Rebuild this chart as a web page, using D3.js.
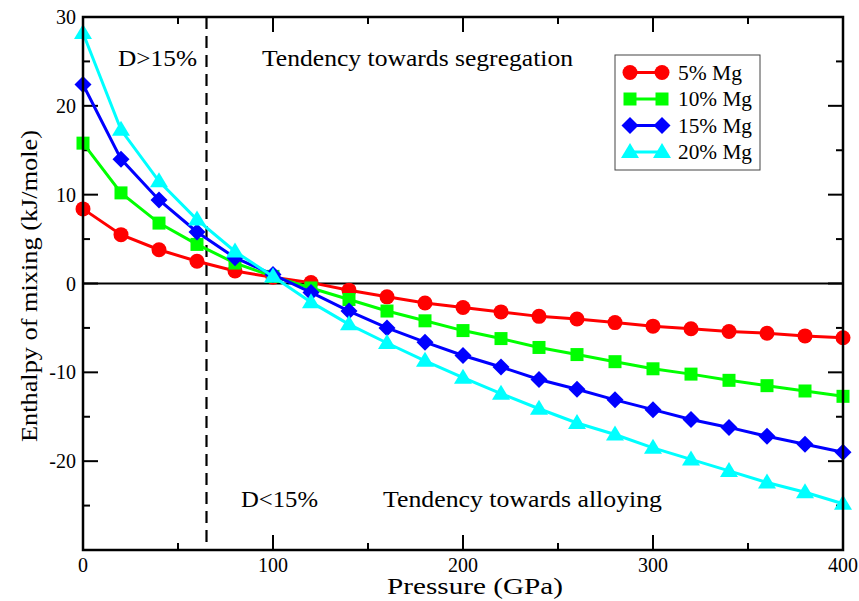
<!DOCTYPE html>
<html>
<head>
<meta charset="utf-8">
<script src="https://cdn.jsdelivr.net/npm/d3@7"></script>
<style>
  body { margin: 0; background: #fff; }
  text { font-family: "Liberation Serif", "Times New Roman", "DejaVu Serif", serif; fill: #000; }
</style>
</head>
<body>
<script>
/////////////////////////////////////////////////
// data
/////////////////////////////////////////////////
var pressure = [0, 20, 40, 60, 80, 100, 120, 140, 160, 180, 200,
                220, 240, 260, 280, 300, 320, 340, 360, 380, 400];

var mg5  = [8.4, 5.5, 3.8, 2.5, 1.4, 0.7, 0.1, -0.75, -1.5, -2.2, -2.7,
            -3.2, -3.7, -4.0, -4.4, -4.8, -5.1, -5.4, -5.6, -5.9, -6.1];
var mg10 = [15.8, 10.2, 6.8, 4.4, 2.3, 0.8, -0.5, -1.8, -3.1, -4.2, -5.3,
            -6.2, -7.2, -8.0, -8.8, -9.6, -10.2, -10.9, -11.5, -12.1, -12.7];
var mg15 = [22.4, 14.0, 9.4, 5.8, 2.9, 1.0, -1.0, -3.1, -5.0, -6.6, -8.1,
            -9.4, -10.8, -11.9, -13.1, -14.2, -15.3, -16.2, -17.2, -18.1, -19.0];
var mg20 = [28.2, 17.3, 11.5, 7.2, 3.6, 0.8, -2.1, -4.6, -6.7, -8.7, -10.6,
            -12.4, -14.1, -15.7, -17.0, -18.5, -19.8, -21.1, -22.4, -23.5, -24.8];

var seriesNames = ["5% Mg", "10% Mg", "15% Mg", "20% Mg"];
var xTicks = [0, 100, 200, 300, 400];
var yTicks = [-20, -10, 0, 10, 20, 30];

/////////////////////////////////////////////////
// locals
/////////////////////////////////////////////////
var width  = 859,
    height = 601;
// note: "top" is a reserved window global, so use plot* names
var plotL = 83, plotR = 843, plotT = 17, plotB = 550;

var colors  = ["#ff0000", "#00ff00", "#0000ff", "#00ffff"];
var shapes  = ["circle", "square", "diamond", "triangle"];

var x = d3.scaleLinear().domain([0, 400]).range([plotL, plotR]);
var y = d3.scaleLinear().domain([-30, 30]).range([plotB, plotT]);

var svg = d3.select("body").append("svg")
    .attr("width", width)
    .attr("height", height);

// marker path centred on 0,0
function markerPath(shape) {
  if (shape == "circle") {
    var r = 7.5;
    return "M" + (-r) + ",0A" + r + "," + r + " 0 1,0 " + r + ",0A" + r + "," + r + " 0 1,0 " + (-r) + ",0Z";
  }
  if (shape == "square") return "M-6.5,-6.5H6.5V6.5H-6.5Z";
  if (shape == "diamond") return "M0,-8.5L8.5,0L0,8.5L-8.5,0Z";
  return "M0,-9L9,6L-9,6Z";
}

/////////////////////////////////////////////////
// frame, ticks
/////////////////////////////////////////////////
var frame = svg.append("g");

// zero line
frame.append("line")
  .attr("x1", plotL).attr("x2", plotR)
  .attr("y1", y(0)).attr("y2", y(0))
  .attr("stroke", "#000").attr("stroke-width", 2);

// dashed boundary at 65 GPa
frame.append("line")
  .attr("x1", x(65)).attr("x2", x(65))
  .attr("y1", plotT).attr("y2", plotB)
  .attr("stroke", "#000").attr("stroke-width", 2.2)
  .attr("stroke-dasharray", "12,7");

function tickList(min, max, step) {
  var out = [];
  for (var v = min; v <= max + 1e-9; v += step) out.push(v);
  return out;
}

// x ticks bottom and top
tickList(0, 400, 50).forEach(function(v) {
  var len = (v % 100 == 0) ? 15 : 7;
  frame.append("line").attr("x1", x(v)).attr("x2", x(v))
    .attr("y1", plotB).attr("y2", plotB - len)
    .attr("stroke", "#000").attr("stroke-width", 2);
  frame.append("line").attr("x1", x(v)).attr("x2", x(v))
    .attr("y1", plotT).attr("y2", plotT + len)
    .attr("stroke", "#000").attr("stroke-width", 2);
});

// y ticks left and right
tickList(-30, 30, 5).forEach(function(v) {
  var len = (v % 10 == 0) ? 15 : 7;
  frame.append("line").attr("x1", plotL).attr("x2", plotL + len)
    .attr("y1", y(v)).attr("y2", y(v))
    .attr("stroke", "#000").attr("stroke-width", 2);
  frame.append("line").attr("x1", plotR).attr("x2", plotR - len)
    .attr("y1", y(v)).attr("y2", y(v))
    .attr("stroke", "#000").attr("stroke-width", 2);
});

frame.selectAll(".xl").data(xTicks).enter().append("text")
  .attr("x", function(d) { return x(d); })
  .attr("y", 572)
  .attr("text-anchor", "middle")
  .style("font-size", "20px")
  .text(function(d) { return d; });

frame.selectAll(".yl").data(yTicks).enter().append("text")
  .attr("x", plotL - 7)
  .attr("y", function(d) { return y(d); })
  .attr("dy", ".35em")
  .attr("text-anchor", "end")
  .style("font-size", "20px")
  .text(function(d) { return d; });

/////////////////////////////////////////////////
// series
/////////////////////////////////////////////////
var allSeries = [mg5, mg10, mg15, mg20];
var line = d3.line()
  .x(function(d, i) { return x(pressure[i]); })
  .y(function(d) { return y(d); });

allSeries.forEach(function(vals, k) {
  var g = svg.append("g");
  g.append("path")
    .attr("d", line(vals))
    .attr("fill", "none")
    .attr("stroke", colors[k])
    .attr("stroke-width", 3);
  g.selectAll("path.m").data(vals).enter().append("path")
    .attr("class", "m")
    .attr("transform", function(d, i) {
      return "translate(" + x(pressure[i]) + "," + y(d) + ")";
    })
    .attr("d", markerPath(shapes[k]))
    .attr("fill", colors[k]);
});

// frame box on top
svg.append("rect")
  .attr("x", plotL).attr("y", plotT)
  .attr("width", plotR - plotL).attr("height", plotB - plotT)
  .attr("fill", "none").attr("stroke", "#000").attr("stroke-width", 2.5);

/////////////////////////////////////////////////
// annotations (reference glyphs are a bit wide, so stretch to measured width)
/////////////////////////////////////////////////
function note(tx, ty, str, w) {
  svg.append("text").attr("x", tx).attr("y", ty)
    .attr("textLength", w).attr("lengthAdjust", "spacingAndGlyphs")
    .style("font-size", "23px").text(str);
}
note(118, 66, "D>15%", 79);
note(262, 66, "Tendency towards segregation", 311);
note(241, 507, "D<15%", 77);
note(383, 507, "Tendency towards alloying", 279);

svg.append("text")
  .attr("x", 387)
  .attr("y", 594)
  .attr("textLength", 176).attr("lengthAdjust", "spacingAndGlyphs")
  .style("font-size", "23px")
  .text("Pressure (GPa)");

svg.append("text")
  .attr("transform", "translate(37,442) rotate(-90)")
  .attr("textLength", 312).attr("lengthAdjust", "spacingAndGlyphs")
  .style("font-size", "23px")
  .text("Enthalpy of mixing (kJ/mole)");

/////////////////////////////////////////////////
// legend
/////////////////////////////////////////////////
var legend = svg.append("g");
legend.append("rect")
  .attr("x", 615).attr("y", 55)
  .attr("width", 145).attr("height", 115)
  .attr("fill", "#fff").attr("stroke", "#444").attr("stroke-width", 1);

var rows = legend.selectAll("g.row").data(seriesNames).enter().append("g")
  .attr("transform", function(d, i) { return "translate(0," + (72.5 + i * 26.5) + ")"; });

rows.append("line")
  .attr("x1", 630).attr("x2", 662)
  .attr("stroke", function(d, i) { return colors[i]; })
  .attr("stroke-width", 3);
rows.each(function(d, i) {
  var r = d3.select(this);
  [630, 662].forEach(function(px) {
    r.append("path")
      .attr("transform", "translate(" + px + ",0)")
      .attr("d", markerPath(shapes[i]))
      .attr("fill", colors[i]);
  });
});
rows.append("text")
  .attr("x", 678)
  .attr("dy", ".35em")
  .attr("textLength", function(d) { return d.length == 5 ? 64 : 74; })
  .attr("lengthAdjust", "spacingAndGlyphs")
  .style("font-size", "21px")
  .text(function(d) { return d; });
</script>
</body>
</html>
